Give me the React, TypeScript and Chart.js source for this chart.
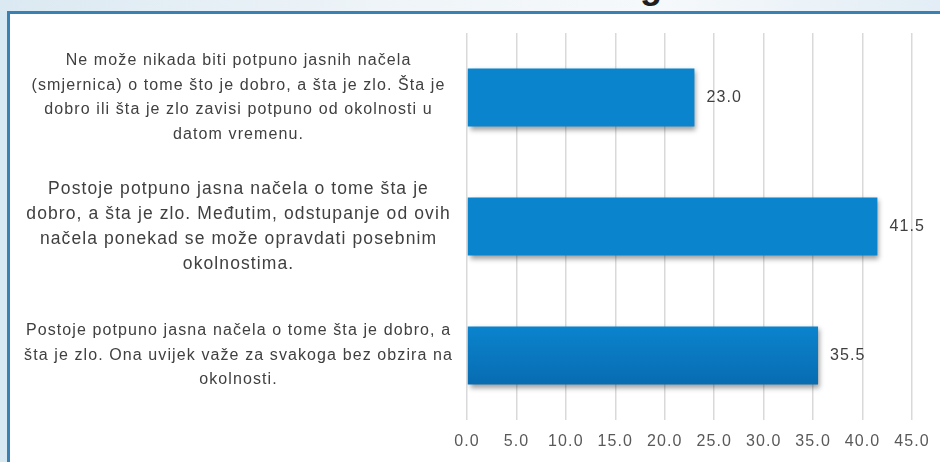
import React, { useEffect, useRef } from "react";
import { Chart, registerables } from "chart.js";

Chart.register(...registerables);

const categories: string[][] = [
  [
    "Ne može nikada biti potpuno jasnih načela",
    "(smjernica) o tome što je dobro, a šta je zlo. Šta je",
    "dobro ili šta je zlo zavisi potpuno od okolnosti u",
    "datom vremenu.",
  ],
  [
    "Postoje potpuno jasna načela o tome šta je",
    "dobro, a šta je zlo. Međutim, odstupanje od ovih",
    "načela ponekad se može opravdati posebnim",
    "okolnostima.",
  ],
  [
    "Postoje potpuno jasna načela o tome šta je dobro, a",
    "šta je zlo. Ona uvijek važe za svakoga bez obzira na",
    "okolnosti.",
  ],
];

const values: number[] = [23.0, 41.5, 35.5];

const xMin = 0;
const xMax = 45;
const xStep = 5;

const FONT = "'Liberation Sans', Arial, sans-serif";
const SPACING = "1.1px";

export default function App() {
  const canvasRef = useRef<HTMLCanvasElement | null>(null);

  useEffect(() => {
    const canvas = canvasRef.current;
    if (!canvas) return;

    const spacingPlugin = {
      id: "spacing",
      beforeUpdate(chart: any) {
        (chart.ctx as any).letterSpacing = SPACING;
      },
      beforeDraw(chart: any) {
        (chart.ctx as any).letterSpacing = SPACING;
      },
    };

    const barPlugin = {
      id: "barStyle",
      beforeDatasetsDraw(chart: any) {
        const ctx = chart.ctx as CanvasRenderingContext2D;
        const meta = chart.getDatasetMeta(0);
        meta.data.forEach((el: any) => {
          const h = el.height || 58;
          const g = ctx.createLinearGradient(0, el.y - h / 2, 0, el.y + h / 2);
          g.addColorStop(0, "#0a84cd");
          g.addColorStop(1, "#086cb2");
          el.options.backgroundColor = g;
        });
        ctx.save();
        ctx.shadowColor = "rgba(0,0,0,0.38)";
        ctx.shadowBlur = 5;
        ctx.shadowOffsetX = 2;
        ctx.shadowOffsetY = 3;
      },
      afterDatasetsDraw(chart: any) {
        const ctx = chart.ctx as CanvasRenderingContext2D;
        ctx.restore();
        ctx.save();
        (ctx as any).letterSpacing = SPACING;
        ctx.font = `16px ${FONT}`;
        ctx.fillStyle = "#404040";
        ctx.textAlign = "left";
        ctx.textBaseline = "middle";
        const meta = chart.getDatasetMeta(0);
        meta.data.forEach((el: any, i: number) => {
          ctx.fillText(values[i].toFixed(1), el.x + 12, el.y);
        });
        ctx.restore();
      },
    };

    const chart = new Chart(canvas, {
      type: "bar",
      data: {
        labels: categories as any,
        datasets: [
          {
            data: values,
            backgroundColor: "#0a7cc4",
            borderWidth: 0,
            barPercentage: 0.45,
            categoryPercentage: 1,
          },
        ],
      },
      options: {
        indexAxis: "y",
        responsive: false,
        animation: false,
        devicePixelRatio: 1,
        layout: { padding: { top: 33, right: 28, left: 0, bottom: 0 } },
        plugins: {
          legend: { display: false },
          tooltip: { enabled: false },
          title: { display: false },
        },
        scales: {
          x: {
            min: xMin,
            max: xMax,
            grid: { color: "#d9d9d9", lineWidth: 1.5, drawTicks: false },
            border: { display: false },
            ticks: {
              stepSize: xStep,
              padding: 12,
              color: "#595959",
              font: { family: FONT, size: 16 },
              callback: (v: any) => Number(v).toFixed(1),
            },
            afterFit: (scale: any) => {
              scale.height = 42;
              scale.paddingLeft = 0;
              scale.paddingRight = 0;
              scale.paddingTop = 0;
              scale.paddingBottom = 0;
            },
          },
          y: {
            grid: { display: false, drawTicks: false },
            border: { display: false },
            ticks: {
              crossAlign: "center",
              padding: 14,
              color: "#404040",
              font: (c: any) =>
                c.index === 1
                  ? { family: FONT, size: 17.5, lineHeight: 1.43 }
                  : { family: FONT, size: 16, lineHeight: 1.53 },
            },
            afterFit: (scale: any) => {
              scale.width = 467;
              scale.paddingLeft = 0;
              scale.paddingRight = 0;
              scale.paddingTop = 0;
              scale.paddingBottom = 0;
            },
          },
        },
      },
      plugins: [spacingPlugin, barPlugin],
    });

    return () => chart.destroy();
  }, []);

  return (
    <div
      style={{
        position: "fixed",
        left: 0,
        top: 0,
        width: 940,
        height: 462,
        overflow: "hidden",
        background: "#d7e9f3",
      }}
    >
      <div
        style={{
          position: "absolute",
          left: 0,
          top: 0,
          width: 940,
          height: 11,
          background:
            "linear-gradient(to right, #dbe9f2 0%, #eef4f8 40%, #f6f9fb 70%, #e2edf5 100%)",
        }}
      />
      <div
        style={{
          position: "absolute",
          left: 640,
          top: -34,
          fontFamily: FONT,
          fontWeight: "bold",
          fontSize: 36,
          color: "#1e1e1e",
          lineHeight: "40px",
        }}
      >
        g
      </div>
      <div
        style={{
          position: "absolute",
          left: 7,
          top: 11,
          width: 960,
          height: 480,
          background: "#ffffff",
          borderLeft: "3px solid #3b80b3",
          borderTop: "3px solid #3b80b3",
        }}
      />
      <canvas
        ref={canvasRef}
        width={940}
        height={462}
        style={{ position: "absolute", left: 0, top: 0, width: 940, height: 462 }}
      />
    </div>
  );
}
